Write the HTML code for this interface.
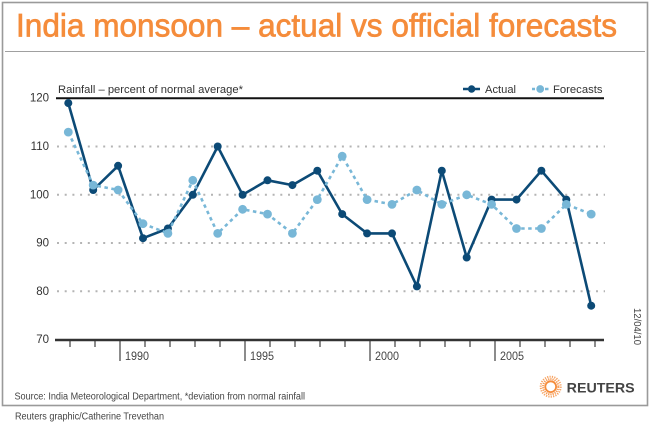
<!DOCTYPE html>
<html><head><meta charset="utf-8"><style>
html,body{margin:0;padding:0;background:#fff;}
svg{display:block;}
text{font-family:"Liberation Sans",Arial,sans-serif;}
</style></head><body>
<svg width="650" height="423" viewBox="0 0 650 423" xmlns="http://www.w3.org/2000/svg">
<rect x="0" y="0" width="650" height="423" fill="#fff"/>
<rect x="2.5" y="2.5" width="645" height="403" fill="none" stroke="#9a9a9a" stroke-width="1.6"/>
<text x="16" y="36.5" font-size="32" fill="#f58c3b" stroke="#f58c3b" stroke-width="0.7" textLength="601" lengthAdjust="spacingAndGlyphs">India monsoon – actual vs official forecasts</text>
<line x1="5" y1="51.5" x2="645" y2="51.5" stroke="#a0a0a0" stroke-width="1"/>

<!-- gridlines -->
<g stroke="#b4b4b4" stroke-width="2" stroke-dasharray="2 5.7">
<line x1="57" y1="146.5" x2="605" y2="146.5"/>
<line x1="57" y1="194.8" x2="605" y2="194.8"/>
<line x1="57" y1="243" x2="605" y2="243"/>
<line x1="57" y1="291.3" x2="605" y2="291.3"/>
</g>
<line x1="56" y1="98.3" x2="604" y2="98.3" stroke="#111" stroke-width="2"/>

<!-- y labels -->
<g font-size="11.5" fill="#333" text-anchor="end">
<text x="49" y="101.5">120</text>
<text x="49" y="150">110</text>
<text x="49" y="198.3">100</text>
<text x="49" y="246.5">90</text>
<text x="49" y="294.8">80</text>
<text x="49" y="343">70</text>
</g>
<text x="58" y="93" font-size="11" fill="#333" textLength="185" lengthAdjust="spacingAndGlyphs">Rainfall – percent of normal average*</text>

<!-- legend -->
<line x1="463" y1="89" x2="468" y2="89" stroke="#0c4a76" stroke-width="2.5"/>
<line x1="475" y1="89" x2="480" y2="89" stroke="#0c4a76" stroke-width="2.5"/>
<circle cx="471.6" cy="89" r="3.7" fill="#0c4a76"/>
<text x="485" y="93" font-size="11" fill="#333" textLength="31" lengthAdjust="spacingAndGlyphs">Actual</text>
<line x1="532" y1="89" x2="535" y2="89" stroke="#78b7d7" stroke-width="2.5"/>
<line x1="545" y1="89" x2="548.5" y2="89" stroke="#78b7d7" stroke-width="2.5"/>
<circle cx="540.2" cy="89" r="3.9" fill="#78b7d7"/>
<text x="553" y="93" font-size="11" fill="#333" textLength="49.5" lengthAdjust="spacingAndGlyphs">Forecasts</text>

<!-- x axis -->
<g stroke="#666" stroke-width="1.5">
<line x1="70" y1="340" x2="70" y2="347"/><line x1="95" y1="340" x2="95" y2="347"/>
<line x1="120" y1="340" x2="120" y2="361"/><line x1="145" y1="340" x2="145" y2="347"/>
<line x1="170" y1="340" x2="170" y2="347"/><line x1="195" y1="340" x2="195" y2="347"/>
<line x1="220" y1="340" x2="220" y2="347"/><line x1="245" y1="340" x2="245" y2="361"/>
<line x1="270" y1="340" x2="270" y2="347"/><line x1="295" y1="340" x2="295" y2="347"/>
<line x1="320" y1="340" x2="320" y2="347"/><line x1="345" y1="340" x2="345" y2="347"/>
<line x1="370" y1="340" x2="370" y2="361"/><line x1="395" y1="340" x2="395" y2="347"/>
<line x1="420" y1="340" x2="420" y2="347"/><line x1="445" y1="340" x2="445" y2="347"/>
<line x1="470" y1="340" x2="470" y2="347"/><line x1="495" y1="340" x2="495" y2="361"/>
<line x1="520" y1="340" x2="520" y2="347"/><line x1="545" y1="340" x2="545" y2="347"/>
<line x1="570" y1="340" x2="570" y2="347"/><line x1="595" y1="340" x2="595" y2="347"/>
</g>
<line x1="55" y1="340" x2="604" y2="340" stroke="#333" stroke-width="2.6"/>
<g font-size="11.5" fill="#444">
<text x="125" y="360" textLength="24" lengthAdjust="spacingAndGlyphs">1990</text>
<text x="250" y="360" textLength="24" lengthAdjust="spacingAndGlyphs">1995</text>
<text x="375" y="360" textLength="24" lengthAdjust="spacingAndGlyphs">2000</text>
<text x="500" y="360" textLength="24" lengthAdjust="spacingAndGlyphs">2005</text>
</g>

<!-- actual -->
<polyline fill="none" stroke="#0c4a76" stroke-width="2.6" stroke-linejoin="round" points="68.3,103.1 93.2,190.0 118.1,165.8 143.0,238.2 167.9,228.5 192.8,194.8 217.7,146.5 242.6,194.8 267.5,180.3 292.4,185.1 317.3,170.7 342.2,214.1 367.1,233.4 392.0,233.4 416.9,286.4 441.8,170.7 466.7,257.5 491.6,199.6 516.5,199.6 541.4,170.7 566.3,199.6 591.2,305.7"/>
<g fill="#0c4a76">
<circle cx="68.3" cy="103.1" r="4"/><circle cx="93.2" cy="190.0" r="4"/><circle cx="118.1" cy="165.8" r="4"/><circle cx="143.0" cy="238.2" r="4"/><circle cx="167.9" cy="228.5" r="4"/><circle cx="192.8" cy="194.8" r="4"/><circle cx="217.7" cy="146.5" r="4"/><circle cx="242.6" cy="194.8" r="4"/><circle cx="267.5" cy="180.3" r="4"/><circle cx="292.4" cy="185.1" r="4"/><circle cx="317.3" cy="170.7" r="4"/><circle cx="342.2" cy="214.1" r="4"/><circle cx="367.1" cy="233.4" r="4"/><circle cx="392.0" cy="233.4" r="4"/><circle cx="416.9" cy="286.4" r="4"/><circle cx="441.8" cy="170.7" r="4"/><circle cx="466.7" cy="257.5" r="4"/><circle cx="491.6" cy="199.6" r="4"/><circle cx="516.5" cy="199.6" r="4"/><circle cx="541.4" cy="170.7" r="4"/><circle cx="566.3" cy="199.6" r="4"/><circle cx="591.2" cy="305.7" r="4"/>
</g>

<!-- forecasts -->
<polyline fill="none" stroke="#78b7d7" stroke-width="2.6" stroke-dasharray="3.5 3.5" points="68.3,132.1 93.2,185.1 118.1,190.0 143.0,223.7 167.9,233.4 192.8,180.3 217.7,233.4 242.6,209.3 267.5,214.1 292.4,233.4 317.3,199.6 342.2,156.2 367.1,199.6 392.0,204.4 416.9,190.0 441.8,204.4 466.7,194.8 491.6,204.4 516.5,228.5 541.4,228.5 566.3,204.4 591.2,214.1"/>
<g fill="#78b7d7">
<circle cx="68.3" cy="132.1" r="4.4"/><circle cx="93.2" cy="185.1" r="4.4"/><circle cx="118.1" cy="190.0" r="4.4"/><circle cx="143.0" cy="223.7" r="4.4"/><circle cx="167.9" cy="233.4" r="4.4"/><circle cx="192.8" cy="180.3" r="4.4"/><circle cx="217.7" cy="233.4" r="4.4"/><circle cx="242.6" cy="209.3" r="4.4"/><circle cx="267.5" cy="214.1" r="4.4"/><circle cx="292.4" cy="233.4" r="4.4"/><circle cx="317.3" cy="199.6" r="4.4"/><circle cx="342.2" cy="156.2" r="4.4"/><circle cx="367.1" cy="199.6" r="4.4"/><circle cx="392.0" cy="204.4" r="4.4"/><circle cx="416.9" cy="190.0" r="4.4"/><circle cx="441.8" cy="204.4" r="4.4"/><circle cx="466.7" cy="194.8" r="4.4"/><circle cx="491.6" cy="204.4" r="4.4"/><circle cx="516.5" cy="228.5" r="4.4"/><circle cx="541.4" cy="228.5" r="4.4"/><circle cx="566.3" cy="204.4" r="4.4"/><circle cx="591.2" cy="214.1" r="4.4"/>
</g>

<!-- date -->
<text x="0" y="0" font-size="10" fill="#444" transform="translate(634,308) rotate(90)" textLength="37" lengthAdjust="spacingAndGlyphs">12/04/10</text>

<!-- logo -->
<g fill="none" stroke="#f58c3b">
<circle cx="550.7" cy="386.7" r="10" stroke-width="2" stroke-dasharray="1.2 1.2" opacity="0.8"/>
<circle cx="550.7" cy="386.7" r="7.6" stroke-width="2" stroke-dasharray="1.2 1" opacity="0.9"/>
<circle cx="550.7" cy="386.7" r="5.4" stroke-width="1.8"/>
</g>
<circle cx="550.7" cy="386.7" r="3.6" fill="#fff"/>
<text x="566.7" y="392.3" font-size="14" font-weight="bold" fill="#444" textLength="68" lengthAdjust="spacingAndGlyphs">REUTERS</text>

<!-- footer -->
<text x="14.5" y="399.5" font-size="10" fill="#444" textLength="290.5" lengthAdjust="spacingAndGlyphs">Source: India Meteorological Department, *deviation from normal rainfall</text>
<text x="15" y="419.5" font-size="10" fill="#444" textLength="149" lengthAdjust="spacingAndGlyphs">Reuters graphic/Catherine Trevethan</text>
</svg>
</body></html>
